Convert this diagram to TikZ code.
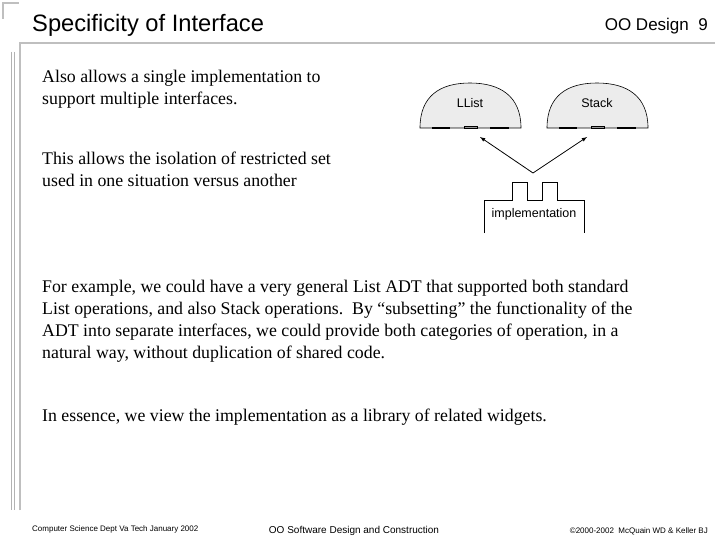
\documentclass[tikz,border=0pt]{standalone}
\usepackage{fontspec}
\setmainfont{Liberation Serif}
\newfontfamily\arial{Liberation Sans}
\begin{document}
\begin{tikzpicture}[x=1pt,y=-1pt,
    frameline/.style={draw=gray!50, line width=1.5pt},
    dome/.style={draw=black, fill=gray!15, line width=0.6pt},
    body/.style={anchor=north west, align=left, font=\fontsize{17.8}{22}\selectfont, inner sep=0pt},
    foot/.style={font=\arial\fontsize{8}{9}\selectfont, inner sep=0pt}]
    \useasboundingbox (0,0) rectangle (720,540);
    % Slide frame
    \fill[white] (0,0) rectangle (720,540);
    \draw[frameline] (3,19) -- (3,3) -- (19,3);
    \draw[frameline] (20,510) -- (20,43) -- (715,43);
    \draw[gray!60] (11,52) -- (11,510) (14,52) -- (14,510);
    % Titles
    \node[anchor=west, font=\arial\fontsize{23.7}{26}\selectfont, inner sep=0pt] (title) at (32,25) {Specificity of Interface};
    \node[anchor=east, font=\arial\fontsize{17}{20}\selectfont, inner sep=0pt] (page) at (708,26) {OO Design\ \ 9};
    % Text
    \node[body] (t1) at (42,70) {Also allows a single implementation to\\support multiple interfaces.};
    \node[body] (t2) at (42,152) {This allows the isolation of restricted set\\used in one situation versus another};
    \node[body] (t3) at (42,280) {For example, we could have a very general List ADT that supported both standard\\List operations, and also Stack operations.\ \ By ``subsetting'' the functionality of the\\ADT into separate interfaces, we could provide both categories of operation, in a\\natural way, without duplication of shared code.};
    \node[body] (t4) at (42,409) {In essence, we view the implementation as a library of related widgets.};
    % Interfaces
    \foreach \x/\name/\lbl in {420/llist/LList, 547/stack/Stack} {
        \draw[dome] (\x,128) .. controls (\x,96) and (\x+20,83) .. (\x+50,83)
            .. controls (\x+80,83) and (\x+101,96) .. (\x+101,128) -- cycle;
        \draw[line width=1.5pt] (\x+12,128) -- (\x+30,128) (\x+70,128) -- (\x+89,128);
        \draw (\x+44,126) rectangle (\x+57,128);
        \node[font=\arial\fontsize{12.5}{14}\selectfont, inner sep=1pt] (\name) at (\x+50,103) {\lbl};
    }
    % Implementation
    \draw (484,233) -- (484,200) -- (512,200) -- (512,182) -- (527,182) -- (527,200)
        -- (542,200) -- (542,182) -- (557,182) -- (557,200) -- (584,200) -- (584,233);
    \node[font=\arial\fontsize{12.5}{14}\selectfont, inner sep=1pt] (impl) at (534,214) {implementation};
    \coordinate (fork) at (533,173);
    \coordinate (ltip) at (480,137);
    \coordinate (stip) at (587,137);
    \draw[-latex, thick] (fork) -- (ltip);
    \draw[-latex, thick] (fork) -- (stip);
    % Footer
    \node[foot, anchor=west] (f1) at (32,529) {Computer Science Dept Va Tech January 2002};
    \node[foot, font=\arial\fontsize{10}{11}\selectfont] (f2) at (354,531) {OO Software Design and Construction};
    \node[foot, anchor=east] (f3) at (708,531) {\textcopyright 2000-2002\ \ McQuain WD \& Keller BJ};
\end{tikzpicture}
\end{document}
